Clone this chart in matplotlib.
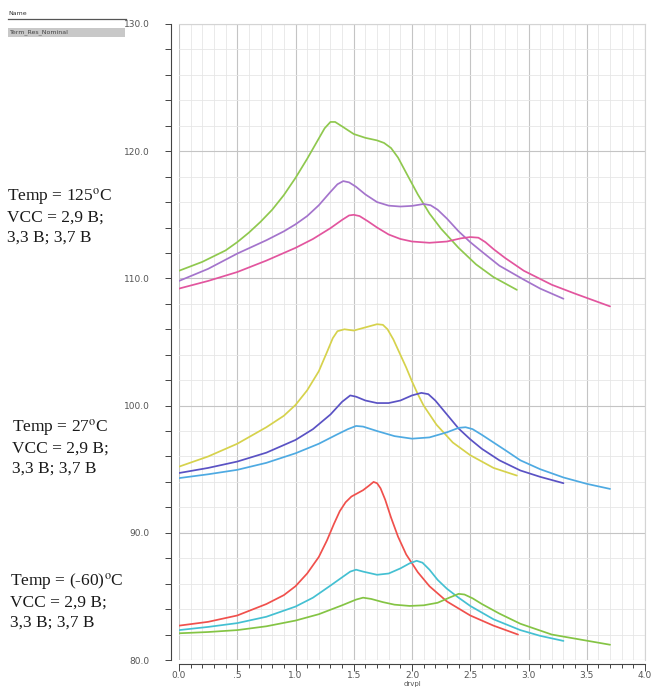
import matplotlib
matplotlib.use("Agg")
import matplotlib.pyplot as plt
from matplotlib.ticker import MultipleLocator
from matplotlib.patches import Rectangle
from matplotlib.lines import Line2D

plt.rcParams['mathtext.fontset'] = 'stix'

# ---- data (x = drvpl, y = value) ----
# Temp = 125 C
g1_x = [0.0, 0.2, 0.4, 0.5, 0.6, 0.7, 0.8, 0.9, 1.0, 1.1, 1.2, 1.25, 1.3, 1.34, 1.4, 1.5,
        1.6, 1.7, 1.76, 1.82, 1.88, 1.95, 2.05, 2.15, 2.25, 2.4, 2.55, 2.7, 2.9]
g1_y = [110.6, 111.3, 112.2, 112.85, 113.6, 114.45, 115.4, 116.55, 117.9, 119.4, 121.0,
        121.8, 122.3, 122.3, 121.95, 121.35, 121.05, 120.85, 120.65, 120.25, 119.5, 118.3,
        116.6, 115.1, 113.9, 112.4, 111.1, 110.1, 109.1]
p1_x = [0.0, 0.25, 0.5, 0.75, 0.9, 1.0, 1.1, 1.2, 1.3, 1.36, 1.41, 1.46, 1.52, 1.6, 1.7,
        1.8, 1.9, 2.0, 2.1, 2.16, 2.22, 2.3, 2.4, 2.5, 2.6, 2.75, 2.96, 3.1, 3.3]
p1_y = [109.8, 110.75, 111.95, 113.0, 113.7, 114.25, 114.9, 115.75, 116.8, 117.4, 117.65,
        117.55, 117.2, 116.6, 116.0, 115.72, 115.65, 115.7, 115.85, 115.75, 115.4, 114.7,
        113.7, 112.85, 112.1, 111.0, 109.9, 109.2, 108.4]
m1_x = [0.0, 0.25, 0.5, 0.75, 1.0, 1.15, 1.3, 1.4, 1.46, 1.5, 1.55, 1.62, 1.7, 1.8, 1.9,
        2.0, 2.15, 2.3, 2.42, 2.5, 2.57, 2.63, 2.7, 2.8, 2.96, 3.2, 3.4, 3.7]
m1_y = [109.2, 109.8, 110.5, 111.4, 112.4, 113.1, 113.95, 114.6, 114.95, 115.0, 114.9,
        114.5, 114.0, 113.45, 113.1, 112.9, 112.8, 112.9, 113.15, 113.25, 113.2, 112.85,
        112.3, 111.6, 110.6, 109.5, 108.8, 107.8]

# Temp = 27 C
y2_x = [0.0, 0.25, 0.5, 0.75, 0.9, 1.0, 1.1, 1.2, 1.27, 1.32, 1.36, 1.42, 1.5, 1.6, 1.7,
        1.75, 1.79, 1.84, 1.9, 1.95, 2.0, 2.05, 2.1, 2.21, 2.35, 2.5, 2.7, 2.9]
y2_y = [95.2, 96.0, 97.0, 98.3, 99.2, 100.05, 101.2, 102.7, 104.2, 105.3, 105.85, 106.0,
        105.9, 106.15, 106.4, 106.35, 106.0, 105.2, 104.0, 103.0, 101.9, 100.9, 100.0,
        98.5, 97.1, 96.1, 95.1, 94.5]
b2_x = [0.0, 0.25, 0.5, 0.75, 1.0, 1.15, 1.3, 1.4, 1.47, 1.52, 1.6, 1.7, 1.8, 1.9, 2.0,
        2.08, 2.14, 2.2, 2.3, 2.4, 2.5, 2.6, 2.75, 2.93, 3.1, 3.3]
b2_y = [94.7, 95.1, 95.6, 96.3, 97.3, 98.15, 99.3, 100.3, 100.8, 100.7, 100.4, 100.2,
        100.2, 100.4, 100.8, 101.0, 100.9, 100.4, 99.3, 98.2, 97.35, 96.6, 95.7, 94.9,
        94.4, 93.9]
c2_x = [0.0, 0.25, 0.5, 0.75, 1.0, 1.2, 1.35, 1.45, 1.52, 1.58, 1.7, 1.85, 2.0, 2.15, 2.3,
        2.4, 2.46, 2.52, 2.6, 2.7, 2.8, 2.93, 3.1, 3.3, 3.5, 3.7]
c2_y = [94.3, 94.6, 94.95, 95.5, 96.25, 97.0, 97.7, 98.15, 98.4, 98.35, 98.0, 97.6, 97.4,
        97.5, 97.9, 98.25, 98.3, 98.15, 97.7, 97.1, 96.5, 95.7, 95.0, 94.35, 93.85, 93.45]

# Temp = -60 C
r3_x = [0.0, 0.25, 0.5, 0.75, 0.9, 1.0, 1.1, 1.2, 1.27, 1.33, 1.38, 1.43, 1.48, 1.53, 1.58,
        1.63, 1.67, 1.7, 1.73, 1.77, 1.82, 1.88, 1.95, 2.05, 2.15, 2.3, 2.5, 2.7, 2.91]
r3_y = [82.7, 83.0, 83.5, 84.4, 85.1, 85.8, 86.8, 88.1, 89.4, 90.7, 91.7, 92.4, 92.85,
        93.1, 93.35, 93.7, 94.0, 93.9, 93.5, 92.6, 91.2, 89.7, 88.3, 86.9, 85.8, 84.6,
        83.5, 82.7, 82.0]
t3_x = [0.0, 0.25, 0.5, 0.75, 1.0, 1.15, 1.3, 1.4, 1.47, 1.52, 1.58, 1.7, 1.8, 1.9, 1.98,
        2.04, 2.09, 2.15, 2.22, 2.3, 2.4, 2.5, 2.7, 2.93, 3.1, 3.3]
t3_y = [82.35, 82.6, 82.9, 83.4, 84.2, 84.9, 85.85, 86.5, 86.95, 87.1, 86.95, 86.7, 86.8,
        87.2, 87.6, 87.8, 87.65, 87.1, 86.3, 85.6, 84.9, 84.25, 83.2, 82.35, 81.9, 81.5]
g3_x = [0.0, 0.25, 0.5, 0.75, 1.0, 1.2, 1.4, 1.52, 1.58, 1.65, 1.75, 1.85, 1.98, 2.1,
        2.22, 2.32, 2.4, 2.45, 2.52, 2.6, 2.75, 2.93, 3.2, 3.45, 3.7]
g3_y = [82.1, 82.2, 82.35, 82.65, 83.1, 83.6, 84.3, 84.75, 84.9, 84.8, 84.55, 84.35,
        84.25, 84.3, 84.5, 84.9, 85.2, 85.15, 84.85, 84.4, 83.65, 82.85, 82.0, 81.6, 81.2]

x_ticks = [0.0, 0.5, 1.0, 1.5, 2.0, 2.5, 3.0, 3.5, 4.0]
x_labels = ['0.0', '.5', '1.0', '1.5', '2.0', '2.5', '3.0', '3.5', '4.0']
y_ticks = [80, 90, 100, 110, 120, 130]
y_labels = ['80.0', '90.0', '100.0', '110.0', '120.0', '130.0']

series = [
    (g1_x, g1_y, '#8fc84e'), (p1_x, p1_y, '#a474cc'), (m1_x, m1_y, '#e2559e'),
    (y2_x, y2_y, '#d6d24c'), (b2_x, b2_y, '#5a52c4'), (c2_x, c2_y, '#4eaae2'),
    (r3_x, r3_y, '#f0504c'), (t3_x, t3_y, '#44c0d2'), (g3_x, g3_y, '#84c444'),
]

W, H = 652, 690
fig = plt.figure(figsize=(W / 100, H / 100), dpi=100)
ax = fig.add_axes([179 / W, 1 - 660 / H, (645 - 179) / W, (660 - 24) / H])

for xs, ys, col in series:
    ax.plot(xs, ys, color=col, lw=1.25, solid_capstyle='round', solid_joinstyle='round')

ax.set_xlim(0, 4)
ax.set_ylim(80, 130)
ax.set_xticks(x_ticks)
ax.set_xticklabels(x_labels)
ax.set_yticks(y_ticks)
ax.set_yticklabels(y_labels)
ax.xaxis.set_minor_locator(MultipleLocator(0.1))
ax.yaxis.set_minor_locator(MultipleLocator(2))

ax.grid(which='major', axis='both', color='#c4c4c4', lw=0.8)
ax.grid(which='minor', axis='both', color='#e6e6e6', lw=0.6)
ax.set_axisbelow(True)

ax.spines['left'].set_position(('outward', 6))
ax.spines['bottom'].set_position(('outward', 3))
ax.spines['left'].set_color('#444444')
ax.spines['bottom'].set_color('#444444')
for s in ['top', 'right']:
    ax.spines[s].set_color('#d4d4d4')
    ax.spines[s].set_linewidth(0.8)

ax.tick_params(axis='both', which='both', direction='out', colors='#444444',
               labelcolor='#555555', labelsize=6.5, width=0.7)
ax.tick_params(axis='y', which='major', length=4, pad=11)
ax.tick_params(axis='y', which='minor', length=4)
ax.tick_params(axis='x', which='major', length=5, pad=0)
ax.tick_params(axis='x', which='minor', length=3)
ax.set_xlabel('drvpl', fontsize=5, color='#555555')
ax.xaxis.set_label_coords(0.5, -0.0335)

# header box in the upper left corner
fig.text(8 / W, 1 - 15 / H, 'Name', fontsize=4.5, color='#333333', va='baseline')
fig.add_artist(Line2D([8 / W, 126 / W], [1 - 19 / H, 1 - 19 / H], color='#555555', lw=0.9))
fig.add_artist(Rectangle((8 / W, 1 - 37 / H), 117 / W, 9 / H, facecolor='#c8c8c8',
                         edgecolor='none'))
fig.text(10 / W, 1 - 32.5 / H, 'Term_Res_Nominal', fontsize=4.5, color='#444444',
         va='center')

# condition labels
serif = 'Liberation Serif'
blocks = [
    (7, 201, ['Temp = 125$^{\\mathrm{o}}$C', 'VCC = 2,9 B;', '3,3 B; 3,7 B']),
    (12, 432, ['Temp = 27$^{\\mathrm{o}}$C', 'VCC = 2,9 B;', '3,3 B; 3,7 B']),
    (10, 586, ['Temp = (-60)$^{\\mathrm{o}}$C', 'VCC = 2,9 B;', '3,3 B; 3,7 B']),
]
for x0, y0, lines in blocks:
    for i, line in enumerate(lines):
        fig.text(x0 / W, 1 - (y0 + i * 20.5) / H, line, fontsize=12.5, family=serif,
                 color='#1a1a1a', va='baseline')

fig.savefig('out.png', dpi=100)
